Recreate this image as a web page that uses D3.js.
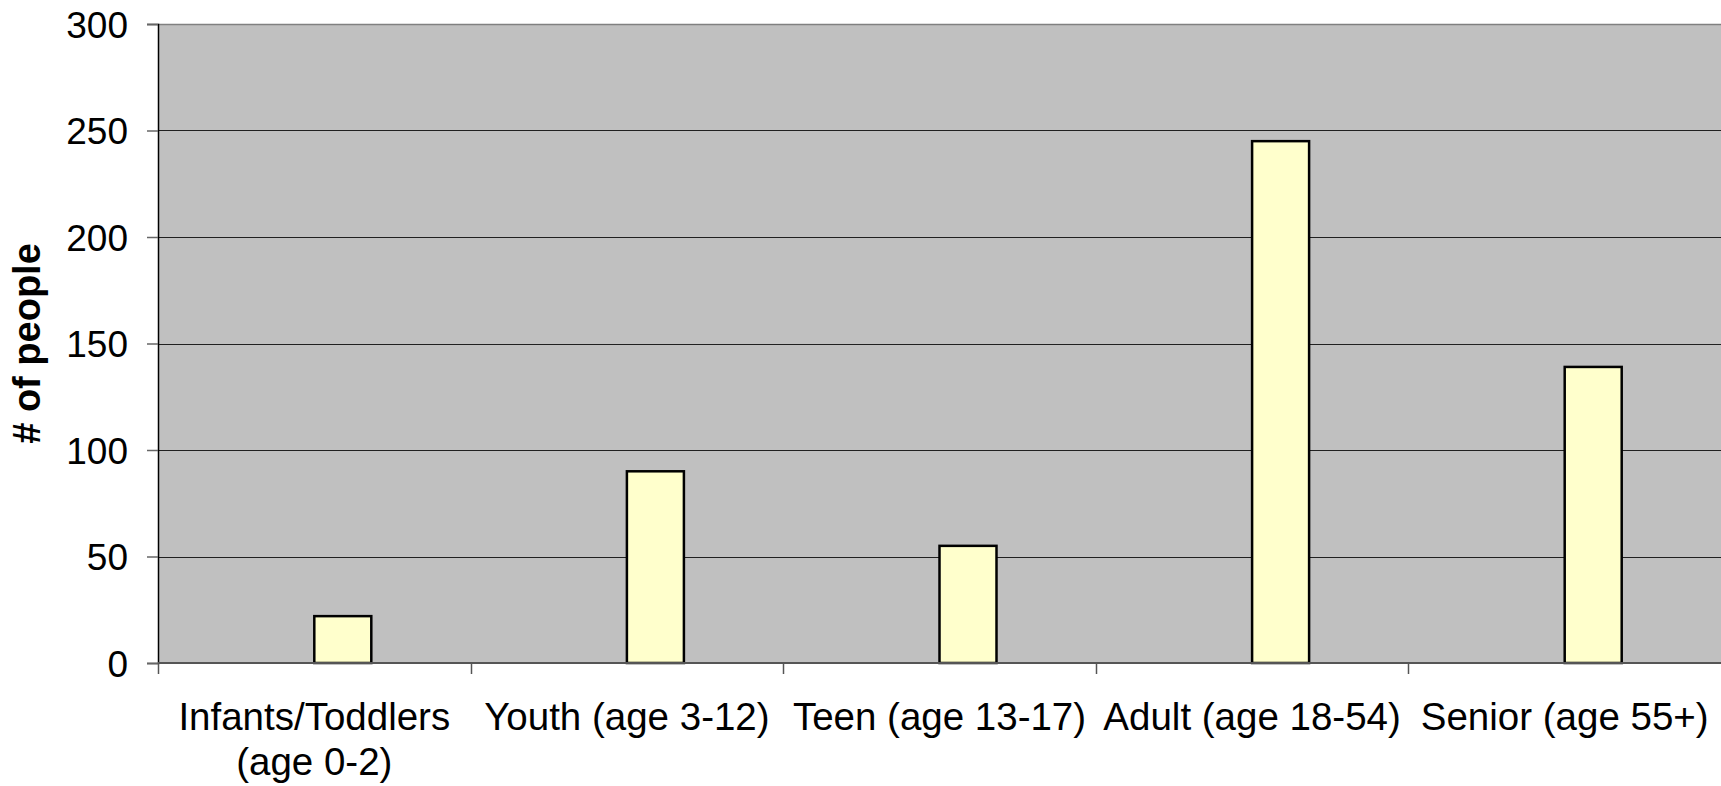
<!DOCTYPE html>
<html>
<head>
<meta charset="utf-8">
<script src="https://cdn.jsdelivr.net/npm/d3@7"></script>
<style>
  body { margin: 0; background: #fff; overflow: hidden; }
  svg { display: block; }
  text { font-family: "Liberation Sans", Arial, sans-serif; fill: #000; }
</style>
</head>
<body>
<svg id="chart"></svg>
<script>
const categories = [
  ['Infants/Toddlers', '(age 0-2)'],
  ['Youth (age 3-12)'],
  ['Teen (age 13-17)'],
  ['Adult (age 18-54)'],
  ['Senior (age 55+)']
];
const values = [22, 90, 55, 245, 139];
const yTicks = [0, 50, 100, 150, 200, 250, 300];
const yLabel = '# of people';

const width = 1721;
const height = 786;
const margin = { left: 158, right: 0, top: 24, bottom: 123 };
const innerWidth = width - margin.left - margin.right;
const innerHeight = height - margin.top - margin.bottom;

const svg = d3.select('#chart')
  .attr('width', width)
  .attr('height', height);

const g = svg.append('g')
  .attr('transform', 'translate(' + margin.left + ',' + margin.top + ')');

const x = d3.scaleBand()
  .domain(d3.range(categories.length))
  .range([0, innerWidth]);

const y = d3.scaleLinear()
  .domain([0, 300])
  .range([innerHeight, 0]);

// plot background
g.append('rect')
  .attr('x', 0)
  .attr('y', 0)
  .attr('width', innerWidth)
  .attr('height', innerHeight)
  .attr('fill', '#c0c0c0');

// grid lines
g.append('g').selectAll('line')
  .data(yTicks.filter(d => d > 0))
  .enter().append('line')
  .attr('x1', 0)
  .attr('x2', innerWidth)
  .attr('y1', d => Math.round(y(d)) + 0.5)
  .attr('y2', d => Math.round(y(d)) + 0.5)
  .attr('stroke', d => d === 300 ? '#808080' : '#202020')
  .attr('stroke-width', d => d === 300 ? 1.5 : 1);

// bars sit to the right of each category centre
const barWidth = 57;
g.append('g').selectAll('rect')
  .data(values)
  .enter().append('rect')
  .attr('x', (d, i) => x(i) + x.bandwidth() / 2)
  .attr('y', d => y(d))
  .attr('width', barWidth)
  .attr('height', d => innerHeight - y(d))
  .attr('fill', '#ffffcc')
  .attr('stroke', '#000')
  .attr('stroke-width', 2.5);

// y axis
const yAxis = g.append('g')
  .call(d3.axisLeft(y).tickValues(yTicks).tickSize(11).tickPadding(19).tickFormat(d3.format('d')))
  .attr('font-size', 37)
  .attr('font-family', '"Liberation Sans", Arial, sans-serif');
yAxis.select('.domain').attr('stroke', '#000').attr('stroke-width', 1.5);
yAxis.selectAll('.tick line').attr('stroke', '#666').attr('stroke-width', 1.5);
yAxis.selectAll('.tick text')
  .attr('dy', '0.36em')
  .attr('fill', '#000');

// x axis
const xAxisG = g.append('g')
  .attr('transform', 'translate(0,' + innerHeight + ')');
xAxisG.append('line')
  .attr('x1', 0)
  .attr('x2', innerWidth)
  .attr('y1', 0)
  .attr('y2', 0)
  .attr('stroke', '#555')
  .attr('stroke-width', 2);
xAxisG.selectAll('.xtick')
  .data(d3.range(categories.length))
  .enter().append('line')
  .attr('x1', d => Math.round(x(d)) + 0.5)
  .attr('x2', d => Math.round(x(d)) + 0.5)
  .attr('y1', 0)
  .attr('y2', 11)
  .attr('stroke', '#555')
  .attr('stroke-width', 1.5);

const labels = xAxisG.selectAll('.xlabel')
  .data(categories)
  .enter().append('text')
  .attr('class', 'xlabel')
  .attr('text-anchor', 'middle')
  .attr('font-size', 38.5)
  .attr('x', (d, i) => x(i) + x.bandwidth() / 2)
  .attr('y', 67);
labels.selectAll('tspan')
  .data(d => d)
  .enter().append('tspan')
  .attr('x', function() { return this.parentNode.getAttribute('x'); })
  .attr('dy', (d, i) => i === 0 ? 0 : 45)
  .text(d => d);

// y axis title
svg.append('text')
  .attr('transform', 'translate(40,' + (margin.top + innerHeight / 2) + ') rotate(-90)')
  .attr('text-anchor', 'middle')
  .attr('font-size', 38)
  .attr('font-weight', 'bold')
  .text(yLabel);
</script>
</body>
</html>
